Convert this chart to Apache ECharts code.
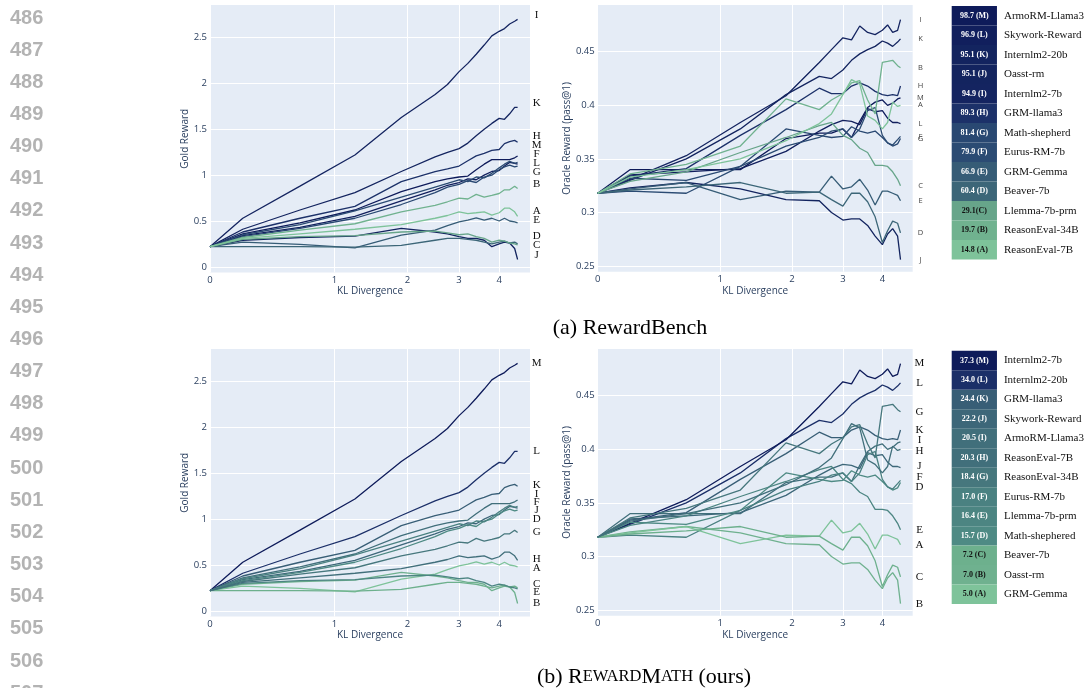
<!DOCTYPE html>
<html><head><meta charset="utf-8">
<script src="https://cdn.jsdelivr.net/npm/echarts@6/dist/echarts.min.js"></script>
<style>
html,body{margin:0;padding:0;background:#fff;width:1087px;height:688px;overflow:hidden;}
.layer{position:absolute;left:0;top:0;width:1087px;height:688px;}
</style></head><body>
<div id="base" class="layer"></div>
<div id="p1" class="layer"></div>
<div id="p2" class="layer"></div>
<div id="p3" class="layer"></div>
<div id="p4" class="layer"></div>
<script>
// ---------------- DATA ----------------
const kl = [0, 0.2, 0.65, 1.24, 1.9, 2.5, 2.75, 3.0, 3.2, 3.4, 3.6, 3.8, 4.0, 4.15, 4.3, 4.45, 4.54];
const models = ['ArmoRM-Llama3', 'Skywork-Reward', 'Internlm2-20b', 'Oasst-rm', 'Internlm2-7b', 'GRM-llama3', 'Math-shepherd', 'Eurus-RM-7b', 'GRM-Gemma', 'Beaver-7b', 'Llemma-7b-prm', 'ReasonEval-34B', 'ReasonEval-7B'];
const mathNames = ['ArmoRM-Llama3', 'Skywork-Reward', 'Internlm2-20b', 'Oasst-rm', 'Internlm2-7b', 'GRM-llama3', 'Math-shephered', 'Eurus-RM-7b', 'GRM-Gemma', 'Beaver-7b', 'Llemma-7b-prm', 'ReasonEval-34B', 'ReasonEval-7B'];

const rewardBenchScores = [98.7, 96.9, 95.1, 95.1, 94.9, 89.3, 81.4, 79.9, 66.9, 60.4, 29.1, 19.7, 14.8];
const rewardMathScores  = [20.5, 22.2, 34.0, 7.0, 37.3, 24.4, 15.7, 17.0, 5.0, 7.2, 16.4, 18.4, 20.3];
const rewardBenchCellText = ['98.7 (M)', '96.9 (L)', '95.1 (K)', '95.1 (J)', '94.9 (I)', '89.3 (H)', '81.4 (G)', '79.9 (F)', '66.9 (E)', '60.4 (D)', '29.1(C)', '19.7 (B)', '14.8 (A)'];
const rewardMathCellText  = ['37.3 (M)', '34.0 (L)', '24.4 (K)', '22.2 (J)', '20.5 (I)', '20.3 (H)', '18.4 (G)', '17.0 (F)', '16.4 (E)', '15.7 (D)', '7.2 (C)', '7.0 (B)', '5.0 (A)'];

// Gold reward (per model, at kl steps)
const goldArmoRM   = [0.22, 0.36, 0.48, 0.62, 0.82, 0.93, 0.96, 0.98, 0.99, 1.06, 1.12, 1.17, 1.17, 1.17, 1.17, 1.19, 1.21];
const goldSkywork  = [0.22, 0.34, 0.43, 0.55, 0.72, 0.84, 0.89, 0.92, 0.96, 0.95, 1.00, 1.04, 1.05, 1.10, 1.14, 1.13, 1.12];
const goldIntern20 = [0.22, 0.41, 0.62, 0.81, 1.04, 1.20, 1.25, 1.29, 1.35, 1.43, 1.50, 1.565, 1.62, 1.61, 1.67, 1.74, 1.74];
const goldOasst    = [0.22, 0.29, 0.32, 0.335, 0.42, 0.38, 0.36, 0.33, 0.31, 0.31, 0.29, 0.22, 0.25, 0.27, 0.26, 0.20, 0.08];
const goldIntern7  = [0.22, 0.53, 0.88, 1.22, 1.63, 1.88, 1.99, 2.13, 2.22, 2.32, 2.42, 2.52, 2.57, 2.60, 2.65, 2.68, 2.70];
const goldGrmLlama = [0.22, 0.38, 0.53, 0.66, 0.93, 1.04, 1.07, 1.10, 1.157, 1.21, 1.237, 1.27, 1.28, 1.345, 1.365, 1.38, 1.36];
const goldMathShep = [0.22, 0.33, 0.42, 0.53, 0.68, 0.81, 0.87, 0.90, 0.94, 0.92, 0.98, 1.00, 1.06, 1.09, 1.11, 1.09, 1.10];
const goldEurus    = [0.22, 0.35, 0.46, 0.61, 0.76, 0.87, 0.91, 0.95, 0.93, 0.98, 0.97, 1.02, 1.08, 1.12, 1.15, 1.13, 1.14];
const goldGrmGemma = [0.22, 0.27, 0.245, 0.207, 0.345, 0.40, 0.45, 0.49, 0.51, 0.535, 0.51, 0.53, 0.50, 0.53, 0.50, 0.49, 0.48];
const goldBeaver   = [0.22, 0.22, 0.22, 0.215, 0.235, 0.29, 0.31, 0.31, 0.30, 0.29, 0.27, 0.25, 0.27, 0.28, 0.26, 0.27, 0.25];
const goldLlemma   = [0.22, 0.30, 0.33, 0.34, 0.38, 0.39, 0.37, 0.35, 0.36, 0.33, 0.31, 0.27, 0.29, 0.28, 0.26, 0.25, 0.24];
const goldRE34     = [0.22, 0.32, 0.40, 0.47, 0.60, 0.67, 0.71, 0.75, 0.74, 0.79, 0.76, 0.78, 0.80, 0.84, 0.84, 0.88, 0.855];
const goldRE7      = [0.22, 0.31, 0.36, 0.41, 0.46, 0.53, 0.56, 0.60, 0.58, 0.59, 0.60, 0.565, 0.59, 0.64, 0.64, 0.60, 0.55];

// Oracle reward (pass@1)
const oracleArmoRM   = [0.318, 0.340, 0.340, 0.340, 0.369, 0.374, 0.374, 0.378, 0.370, 0.385, 0.398, 0.403, 0.405, 0.400, 0.402, 0.406, 0.407];
const oracleSkywork  = [0.318, 0.335, 0.338, 0.341, 0.357, 0.376, 0.382, 0.386, 0.385, 0.382, 0.397, 0.394, 0.395, 0.388, 0.384, 0.384, 0.383];
const oracleIntern20 = [0.318, 0.330, 0.350, 0.378, 0.410, 0.427, 0.425, 0.433, 0.442, 0.448, 0.452, 0.455, 0.460, 0.458, 0.455, 0.459, 0.462];
const oracleOasst    = [0.318, 0.323, 0.328, 0.322, 0.312, 0.311, 0.300, 0.293, 0.294, 0.294, 0.288, 0.278, 0.270, 0.280, 0.285, 0.278, 0.256];
const oracleIntern7  = [0.318, 0.331, 0.353, 0.384, 0.409, 0.440, 0.452, 0.463, 0.461, 0.474, 0.468, 0.466, 0.470, 0.475, 0.468, 0.470, 0.480];
const oracleGrmLlama = [0.318, 0.334, 0.341, 0.372, 0.396, 0.416, 0.411, 0.411, 0.418, 0.421, 0.418, 0.413, 0.410, 0.409, 0.410, 0.409, 0.418];
const oracleMathShep = [0.318, 0.332, 0.330, 0.343, 0.378, 0.372, 0.370, 0.371, 0.380, 0.376, 0.374, 0.376, 0.370, 0.365, 0.362, 0.364, 0.369];
const oracleEurus    = [0.318, 0.320, 0.318, 0.343, 0.362, 0.370, 0.376, 0.378, 0.370, 0.378, 0.395, 0.398, 0.372, 0.365, 0.363, 0.368, 0.371];
const oracleGrmGemma = [0.318, 0.322, 0.328, 0.312, 0.320, 0.319, 0.334, 0.322, 0.324, 0.331, 0.321, 0.307, 0.320, 0.320, 0.318, 0.316, 0.311];
const oracleBeaver   = [0.318, 0.321, 0.324, 0.328, 0.318, 0.319, 0.312, 0.306, 0.318, 0.318, 0.310, 0.296, 0.272, 0.283, 0.292, 0.290, 0.281];
const oracleLlemma   = [0.318, 0.329, 0.338, 0.356, 0.370, 0.381, 0.384, 0.372, 0.368, 0.360, 0.356, 0.344, 0.344, 0.343, 0.338, 0.331, 0.325];
const oracleRE34     = [0.318, 0.336, 0.345, 0.362, 0.406, 0.396, 0.405, 0.411, 0.421, 0.423, 0.405, 0.392, 0.440, 0.441, 0.442, 0.437, 0.435];
const oracleRE7      = [0.318, 0.333, 0.340, 0.350, 0.367, 0.383, 0.392, 0.410, 0.424, 0.420, 0.390, 0.386, 0.378, 0.384, 0.403, 0.399, 0.400];

const klTickLabels = [0, 1, 2, 3, 4];
const goldTicks = [0, 0.5, 1, 1.5, 2, 2.5];
const oracleTicks = [0.25, 0.3, 0.35, 0.4, 0.45];
const lineNumbers = [486,487,488,489,490,491,492,493,494,495,496,497,498,499,500,501,502,503,504,505,506,507];

// ---------------- helpers ----------------
const goldAll = [goldArmoRM, goldSkywork, goldIntern20, goldOasst, goldIntern7, goldGrmLlama, goldMathShep, goldEurus, goldGrmGemma, goldBeaver, goldLlemma, goldRE34, goldRE7];
const oracleAll = [oracleArmoRM, oracleSkywork, oracleIntern20, oracleOasst, oracleIntern7, oracleGrmLlama, oracleMathShep, oracleEurus, oracleGrmGemma, oracleBeaver, oracleLlemma, oracleRE34, oracleRE7];

const colorStops = [[0,'#7ec39a'],[0.07,'#6daf8d'],[0.17,'#67a58a'],[0.33,'#4e8a84'],[0.42,'#45767d'],[0.5,'#3f6c7a'],[0.6,'#385e76'],[0.78,'#2b4b73'],[0.89,'#1c3169'],[0.96,'#13235f'],[1,'#0e1b5a']];
function hex2rgb(h){return [parseInt(h.slice(1,3),16),parseInt(h.slice(3,5),16),parseInt(h.slice(5,7),16)];}
function scaleColor(s){
  for (let k=1;k<colorStops.length;k++){
    if (s <= colorStops[k][0] + 1e-9){
      const [s0,c0]=colorStops[k-1],[s1,c1]=colorStops[k];
      const f=(s-s0)/(s1-s0), a=hex2rgb(c0), b=hex2rgb(c1);
      return 'rgb('+a.map((v,i)=>Math.round(v+(b[i]-v)*f)).join(',')+')';
    }
  }
  return colorStops[colorStops.length-1][1];
}
function rankInfo(scores){
  const idx = scores.map((s,i)=>i).sort((a,b)=> (scores[b]-scores[a]) || (a-b));
  const letters = new Array(scores.length);
  idx.forEach((mi,r)=>{ letters[mi] = String.fromCharCode(77 - r); });
  const mn = Math.min(...scores), mx = Math.max(...scores);
  const norm = scores.map(s => (s-mn)/(mx-mn));
  return {order: idx, letters, norm, colors: norm.map(scaleColor)};
}
const rbInfo = rankInfo(rewardBenchScores);
const rmInfo = rankInfo(rewardMathScores);

function spread(items, gap){
  const sorted = items.slice().sort((a,b)=>a.y-b.y);
  const clusters = [];
  for (const it of sorted){
    clusters.push({members:[it], top: it.y});
    while (clusters.length > 1){
      const c = clusters[clusters.length-1], p = clusters[clusters.length-2];
      if (p.top + p.members.length*gap > c.top + 1e-6){
        const members = p.members.concat(c.members);
        let s = 0; members.forEach((m,k)=>{ s += m.y - k*gap; });
        clusters.splice(-2, 2, {members, top: s/members.length});
      } else break;
    }
  }
  const out = {};
  clusters.forEach(c => c.members.forEach((m,k)=>{ out[m.i] = c.top + k*gap; }));
  return out;
}

const axisColor = '#2a3f5f';
const tMax = 1.781;
const xTickVals = klTickLabels.map(k => Math.log1p(k));

function renderPanel(domId, cfg, values, info){
  const chart = echarts.init(document.getElementById(domId));
  const lastT = Math.log1p(kl[kl.length-1]);
  const series = models.map((m,i)=>({
    type:'line', name:m, silent:true, animation:false,
    showSymbol:false, symbol:'none',
    data: kl.map((k,j)=>[Math.log1p(k), values[i][j]]),
    lineStyle:{width:1.3, color: info.colors[i]},
    itemStyle:{color: info.colors[i]},
    endLabel:{show:true, formatter: () => info.letters[i], distance: cfg.labelDist, align:'center', verticalAlign:'middle',
      color: cfg.labelColor, fontFamily: cfg.labelFont, fontSize: cfg.labelSize},
    labelLayout:{dy:0}
  }));
  chart.setOption({
    animation:false,
    grid:{left:cfg.left, top:cfg.top, width:cfg.width, height:cfg.height, show:true, backgroundColor:'#e5ecf6', borderWidth:0, containLabel:false},
    xAxis:{type:'value', min:0, max:tMax,
      axisLine:{show:false}, axisTick:{show:false, customValues:xTickVals},
      axisLabel:{customValues:xTickVals, formatter:v => String(Math.round(Math.expm1(v))), margin:3, color:axisColor, fontSize:9.5, fontFamily:'Open Sans'},
      splitLine:{show:true, lineStyle:{color:'#ffffff', width:1}},
      name:'KL Divergence', nameLocation:'middle', nameGap:14,
      nameTextStyle:{color:axisColor, fontSize:10, fontFamily:'Open Sans'}},
    yAxis:{type:'value', min:cfg.yMin, max:cfg.yMax,
      axisLine:{show:false}, axisTick:{show:false, customValues:cfg.yTicks},
      axisLabel:{customValues:cfg.yTicks, formatter:v => String(v), margin:3, color:axisColor, fontSize:9.5, fontFamily:'Open Sans'},
      splitLine:{show:true, lineStyle:{color:'#ffffff', width:1}},
      name:cfg.yName, nameLocation:'middle', nameGap:cfg.yNameGap,
      nameTextStyle:{color:axisColor, fontSize:10, fontFamily:'Open Sans'}},
    series
  });
  const items = models.map((m,i)=>{
    const v = values[i][values[i].length-1];
    const p = chart.convertToPixel({gridIndex:0}, [lastT, v]);
    return {i, y0:p[1], y:p[1] + cfg.baseDy};
  });
  const pos = spread(items, cfg.gap);
  chart.setOption({series: models.map((m,i)=>({labelLayout:{dy: pos[i] - items[i].y0}}))});
}

const goldTop = {left:210, top:5, width:320, height:267.5, yMin:-0.062, yMax:2.857, yTicks:goldTicks, yName:'Gold Reward', yNameGap:17,
  labelDist:19, labelColor:'#111', labelFont:'Liberation Serif', labelSize:11, gap:9, baseDy:-4};
const oracleTop = {left:597.7, top:5, width:315, height:266.7, yMin:0.2448, yMax:0.4936, yTicks:oracleTicks, yName:'Oracle Reward (pass@1)', yNameGap:22,
  labelDist:20, labelColor:'#444', labelFont:'Open Sans', labelSize:7.5, gap:0, baseDy:0};
const goldBot = Object.assign({}, goldTop, {top:349, gap:8.3, baseDy:0});
const oracleBot = Object.assign({}, oracleTop, {top:349, labelColor:'#111', labelFont:'Liberation Serif', labelSize:11, labelDist:19, gap:10.5});

renderPanel('p1', goldTop, goldAll, rbInfo);
renderPanel('p2', oracleTop, oracleAll, rbInfo);
renderPanel('p3', goldBot, goldAll, rmInfo);
renderPanel('p4', oracleBot, oracleAll, rmInfo);

// ---------------- base: tables, line numbers, captions ----------------
function tableParts(gi, info, names, cellText){
  const order = info.order;
  return {
    y: {gridIndex:gi, type:'category', inverse:true, position:'right', data: order.map(i=>names[i]),
        axisLine:{show:false}, axisTick:{show:false},
        axisLabel:{margin:7, color:'#111', fontFamily:'Liberation Serif', fontSize:11, align:'left'}},
    x: {gridIndex:gi, type:'value', min:0, max:1, show:false},
    s: {type:'bar', xAxisIndex:gi, yAxisIndex:gi, barCategoryGap:0, silent:true, animation:false,
        data: order.map((mi,r)=>({value:1,
          itemStyle:{color: info.colors[mi]},
          label:{color: info.norm[mi] < 0.25 ? '#111' : '#ffffff'}})),
        label:{show:true, position:'inside', formatter: p => cellText[p.dataIndex],
          fontFamily:'Liberation Serif', fontWeight:'bold', fontSize:8}}
  };
}
const tTop = tableParts(0, rbInfo, models, rewardBenchCellText);
const tBot = tableParts(1, rmInfo, mathNames, rewardMathCellText);

const graphics = lineNumbers.map((n,k)=>({type:'text', left:10, top: 18 + 32.15*k - 10,
  style:{text:String(n), fill:'#b3b3b3', font:'bold 20px "Liberation Sans"'}}));
graphics.push({type:'text', style:{text:'(a) RewardBench', x:630, y:328, align:'center', verticalAlign:'middle', fill:'#000', font:'22px "Liberation Serif"'}});
graphics.push({type:'text', style:{x:644, y:677, align:'center', verticalAlign:'middle', fill:'#000',
  text:'{n|(b) R}{s|EWARD}{n|M}{s|ATH}{n| (ours)}',
  rich:{n:{fontSize:22, fontFamily:'Liberation Serif', fill:'#000'}, s:{fontSize:16.5, fontFamily:'Liberation Serif', fill:'#000'}}}});

const base = echarts.init(document.getElementById('base'));
base.setOption({
  animation:false,
  grid:[{left:951.7, top:6, width:46, height:253.4}, {left:951.7, top:350.7, width:46, height:253.4}],
  xAxis:[tTop.x, tBot.x],
  yAxis:[tTop.y, tBot.y],
  series:[tTop.s, tBot.s],
  graphic: graphics
});
</script>
</body></html>
